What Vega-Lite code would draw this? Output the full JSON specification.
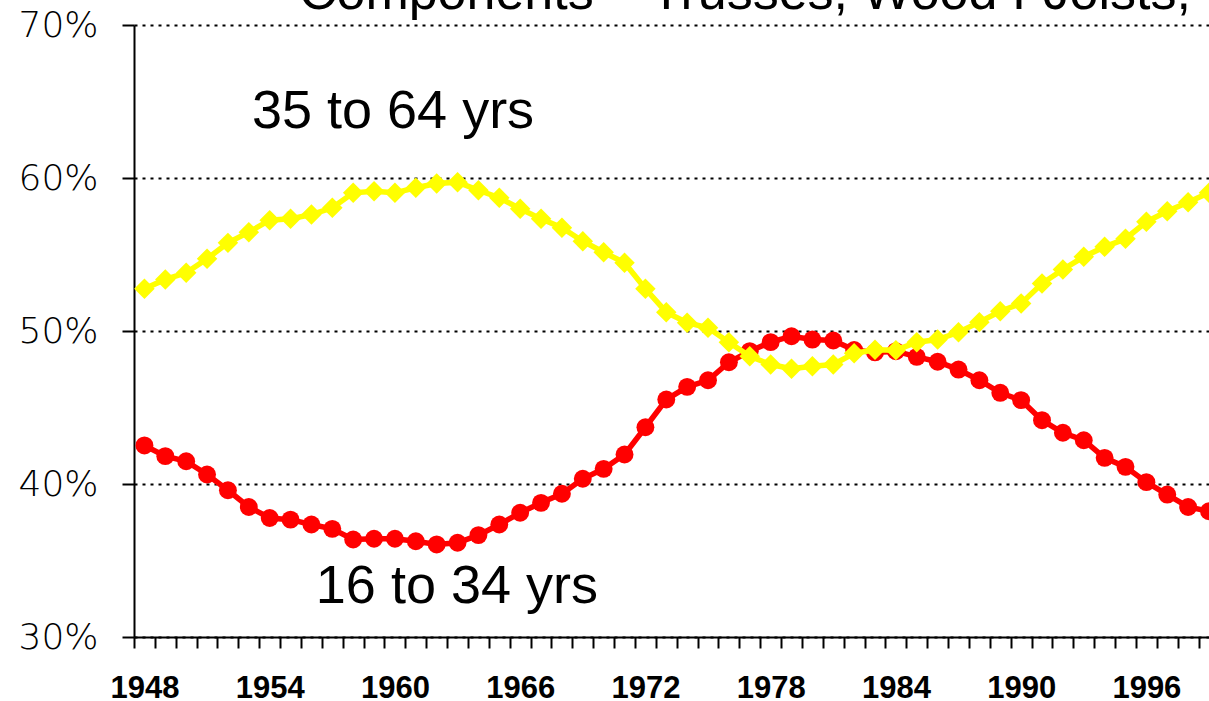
{
  "$schema": "https://vega.github.io/schema/vega-lite/v6.json",
  "autosize": {"type": "none"},
  "padding": {"left": 134, "top": 25, "right": 0, "bottom": 64},
  "width": 1075,
  "height": 612,
  "background": "white",
  "config": {"view": {"stroke": null}},
  "datasets": {
    "share": [
      {"year": 1948, "series": "16 to 34 yrs", "value": 42.52},
      {"year": 1949, "series": "16 to 34 yrs", "value": 41.82},
      {"year": 1950, "series": "16 to 34 yrs", "value": 41.49},
      {"year": 1951, "series": "16 to 34 yrs", "value": 40.62},
      {"year": 1952, "series": "16 to 34 yrs", "value": 39.59},
      {"year": 1953, "series": "16 to 34 yrs", "value": 38.50},
      {"year": 1954, "series": "16 to 34 yrs", "value": 37.78},
      {"year": 1955, "series": "16 to 34 yrs", "value": 37.67},
      {"year": 1956, "series": "16 to 34 yrs", "value": 37.35},
      {"year": 1957, "series": "16 to 34 yrs", "value": 37.07},
      {"year": 1958, "series": "16 to 34 yrs", "value": 36.37},
      {"year": 1959, "series": "16 to 34 yrs", "value": 36.42},
      {"year": 1960, "series": "16 to 34 yrs", "value": 36.42},
      {"year": 1961, "series": "16 to 34 yrs", "value": 36.26},
      {"year": 1962, "series": "16 to 34 yrs", "value": 36.05},
      {"year": 1963, "series": "16 to 34 yrs", "value": 36.16},
      {"year": 1964, "series": "16 to 34 yrs", "value": 36.66},
      {"year": 1965, "series": "16 to 34 yrs", "value": 37.35},
      {"year": 1966, "series": "16 to 34 yrs", "value": 38.12},
      {"year": 1967, "series": "16 to 34 yrs", "value": 38.77},
      {"year": 1968, "series": "16 to 34 yrs", "value": 39.36},
      {"year": 1969, "series": "16 to 34 yrs", "value": 40.34},
      {"year": 1970, "series": "16 to 34 yrs", "value": 40.99},
      {"year": 1971, "series": "16 to 34 yrs", "value": 41.93},
      {"year": 1972, "series": "16 to 34 yrs", "value": 43.71},
      {"year": 1973, "series": "16 to 34 yrs", "value": 45.52},
      {"year": 1974, "series": "16 to 34 yrs", "value": 46.35},
      {"year": 1975, "series": "16 to 34 yrs", "value": 46.78},
      {"year": 1976, "series": "16 to 34 yrs", "value": 47.96},
      {"year": 1977, "series": "16 to 34 yrs", "value": 48.68},
      {"year": 1978, "series": "16 to 34 yrs", "value": 49.27},
      {"year": 1979, "series": "16 to 34 yrs", "value": 49.66},
      {"year": 1980, "series": "16 to 34 yrs", "value": 49.44},
      {"year": 1981, "series": "16 to 34 yrs", "value": 49.38},
      {"year": 1982, "series": "16 to 34 yrs", "value": 48.76},
      {"year": 1983, "series": "16 to 34 yrs", "value": 48.60},
      {"year": 1984, "series": "16 to 34 yrs", "value": 48.68},
      {"year": 1985, "series": "16 to 34 yrs", "value": 48.31},
      {"year": 1986, "series": "16 to 34 yrs", "value": 47.99},
      {"year": 1987, "series": "16 to 34 yrs", "value": 47.48},
      {"year": 1988, "series": "16 to 34 yrs", "value": 46.78},
      {"year": 1989, "series": "16 to 34 yrs", "value": 45.96},
      {"year": 1990, "series": "16 to 34 yrs", "value": 45.48},
      {"year": 1991, "series": "16 to 34 yrs", "value": 44.17},
      {"year": 1992, "series": "16 to 34 yrs", "value": 43.35},
      {"year": 1993, "series": "16 to 34 yrs", "value": 42.86},
      {"year": 1994, "series": "16 to 34 yrs", "value": 41.71},
      {"year": 1995, "series": "16 to 34 yrs", "value": 41.12},
      {"year": 1996, "series": "16 to 34 yrs", "value": 40.12},
      {"year": 1997, "series": "16 to 34 yrs", "value": 39.31},
      {"year": 1998, "series": "16 to 34 yrs", "value": 38.50},
      {"year": 1999, "series": "16 to 34 yrs", "value": 38.22},
      {"year": 1948, "series": "35 to 64 yrs", "value": 52.76},
      {"year": 1949, "series": "35 to 64 yrs", "value": 53.37},
      {"year": 1950, "series": "35 to 64 yrs", "value": 53.80},
      {"year": 1951, "series": "35 to 64 yrs", "value": 54.72},
      {"year": 1952, "series": "35 to 64 yrs", "value": 55.76},
      {"year": 1953, "series": "35 to 64 yrs", "value": 56.46},
      {"year": 1954, "series": "35 to 64 yrs", "value": 57.24},
      {"year": 1955, "series": "35 to 64 yrs", "value": 57.33},
      {"year": 1956, "series": "35 to 64 yrs", "value": 57.61},
      {"year": 1957, "series": "35 to 64 yrs", "value": 58.05},
      {"year": 1958, "series": "35 to 64 yrs", "value": 59.03},
      {"year": 1959, "series": "35 to 64 yrs", "value": 59.14},
      {"year": 1960, "series": "35 to 64 yrs", "value": 59.03},
      {"year": 1961, "series": "35 to 64 yrs", "value": 59.36},
      {"year": 1962, "series": "35 to 64 yrs", "value": 59.64},
      {"year": 1963, "series": "35 to 64 yrs", "value": 59.73},
      {"year": 1964, "series": "35 to 64 yrs", "value": 59.20},
      {"year": 1965, "series": "35 to 64 yrs", "value": 58.71},
      {"year": 1966, "series": "35 to 64 yrs", "value": 57.99},
      {"year": 1967, "series": "35 to 64 yrs", "value": 57.33},
      {"year": 1968, "series": "35 to 64 yrs", "value": 56.75},
      {"year": 1969, "series": "35 to 64 yrs", "value": 55.87},
      {"year": 1970, "series": "35 to 64 yrs", "value": 55.15},
      {"year": 1971, "series": "35 to 64 yrs", "value": 54.46},
      {"year": 1972, "series": "35 to 64 yrs", "value": 52.76},
      {"year": 1973, "series": "35 to 64 yrs", "value": 51.23},
      {"year": 1974, "series": "35 to 64 yrs", "value": 50.54},
      {"year": 1975, "series": "35 to 64 yrs", "value": 50.21},
      {"year": 1976, "series": "35 to 64 yrs", "value": 49.27},
      {"year": 1977, "series": "35 to 64 yrs", "value": 48.35},
      {"year": 1978, "series": "35 to 64 yrs", "value": 47.81},
      {"year": 1979, "series": "35 to 64 yrs", "value": 47.53},
      {"year": 1980, "series": "35 to 64 yrs", "value": 47.70},
      {"year": 1981, "series": "35 to 64 yrs", "value": 47.81},
      {"year": 1982, "series": "35 to 64 yrs", "value": 48.54},
      {"year": 1983, "series": "35 to 64 yrs", "value": 48.77},
      {"year": 1984, "series": "35 to 64 yrs", "value": 48.75},
      {"year": 1985, "series": "35 to 64 yrs", "value": 49.27},
      {"year": 1986, "series": "35 to 64 yrs", "value": 49.44},
      {"year": 1987, "series": "35 to 64 yrs", "value": 49.92},
      {"year": 1988, "series": "35 to 64 yrs", "value": 50.58},
      {"year": 1989, "series": "35 to 64 yrs", "value": 51.29},
      {"year": 1990, "series": "35 to 64 yrs", "value": 51.80},
      {"year": 1991, "series": "35 to 64 yrs", "value": 53.10},
      {"year": 1992, "series": "35 to 64 yrs", "value": 54.02},
      {"year": 1993, "series": "35 to 64 yrs", "value": 54.85},
      {"year": 1994, "series": "35 to 64 yrs", "value": 55.50},
      {"year": 1995, "series": "35 to 64 yrs", "value": 56.03},
      {"year": 1996, "series": "35 to 64 yrs", "value": 57.14},
      {"year": 1997, "series": "35 to 64 yrs", "value": 57.83},
      {"year": 1998, "series": "35 to 64 yrs", "value": 58.42},
      {"year": 1999, "series": "35 to 64 yrs", "value": 59.03}
    ],
    "labels": [
      {"text": "35 to 64 yrs", "year": 1959.91, "value": 63.28},
      {"text": "16 to 34 yrs", "year": 1962.97, "value": 32.19}
    ],
    "heading": [
      {"text": "Components – Trusses, Wood I-Joists,", "year": 1955.4, "value": 71.05}
    ]
  },
  "encoding": {
    "x": {
      "field": "year",
      "type": "quantitative",
      "scale": {"domain": [1947.5, 1999], "nice": false, "zero": false},
      "axis": {
        "title": null,
        "values": [1947.5, 1948.5, 1949.5, 1950.5, 1951.5, 1952.5, 1953.5, 1954.5, 1955.5, 1956.5, 1957.5, 1958.5, 1959.5, 1960.5, 1961.5, 1962.5, 1963.5, 1964.5, 1965.5, 1966.5, 1967.5, 1968.5, 1969.5, 1970.5, 1971.5, 1972.5, 1973.5, 1974.5, 1975.5, 1976.5, 1977.5, 1978.5, 1979.5, 1980.5, 1981.5, 1982.5, 1983.5, 1984.5, 1985.5, 1986.5, 1987.5, 1988.5, 1989.5, 1990.5, 1991.5, 1992.5, 1993.5, 1994.5, 1995.5, 1996.5, 1997.5, 1998.5],
        "labelExpr": "(datum.value + 0.5 - 1948) % 6 == 0 ? toString(datum.value + 0.5) : ''",
        "labelOffset": 10.44,
        "labelOverlap": false,
        "labelFlush": false,
        "labelBound": false,
        "labelFont": "Liberation Sans",
        "labelFontWeight": "bold",
        "labelFontSize": 31,
        "labelColor": "black",
        "labelPadding": 25,
        "tickSize": 11,
        "tickWidth": 2,
        "tickColor": "black",
        "domainColor": "black",
        "domainWidth": 2,
        "grid": false
      }
    },
    "y": {
      "field": "value",
      "type": "quantitative",
      "scale": {"domain": [30, 70], "nice": false, "zero": false},
      "axis": {
        "title": null,
        "values": [30, 40, 50, 60, 70],
        "labelExpr": "datum.value + '%'",
        "labelFont": "DejaVu Sans",
        "labelFontWeight": 200,
        "labelFontSize": 36,
        "labelColor": "black",
        "labelPadding": 24,
        "tickSize": 12,
        "tickWidth": 2,
        "tickColor": "black",
        "domainColor": "black",
        "domainWidth": 2,
        "grid": true,
        "gridColor": "black",
        "gridOpacity": 1,
        "gridWidth": 2,
        "gridDash": [3, 5]
      }
    }
  },
  "layer": [
    {
      "data": {"name": "share"},
      "transform": [{"filter": "datum.series == '16 to 34 yrs'"}],
      "mark": {"type": "line", "color": "#FF0000", "strokeWidth": 5.5}
    },
    {
      "data": {"name": "share"},
      "transform": [{"filter": "datum.series == '16 to 34 yrs'"}],
      "mark": {"type": "point", "shape": "circle", "filled": true, "color": "#FF0000", "opacity": 1, "size": 320}
    },
    {
      "data": {"name": "share"},
      "transform": [{"filter": "datum.series == '35 to 64 yrs'"}],
      "mark": {"type": "line", "color": "#FFFF00", "strokeWidth": 5.5}
    },
    {
      "data": {"name": "share"},
      "transform": [{"filter": "datum.series == '35 to 64 yrs'"}],
      "mark": {"type": "point", "shape": "diamond", "filled": true, "color": "#FFFF00", "opacity": 1, "size": 420}
    },
    {
      "data": {"name": "labels"},
      "mark": {"type": "text", "font": "Liberation Sans", "fontSize": 54, "color": "black", "align": "center", "baseline": "alphabetic"},
      "encoding": {"text": {"field": "text"}}
    },
    {
      "data": {"name": "heading"},
      "mark": {"type": "text", "font": "Liberation Sans", "fontSize": 52, "color": "black", "align": "left", "baseline": "alphabetic"},
      "encoding": {"text": {"field": "text"}}
    }
  ]
}
